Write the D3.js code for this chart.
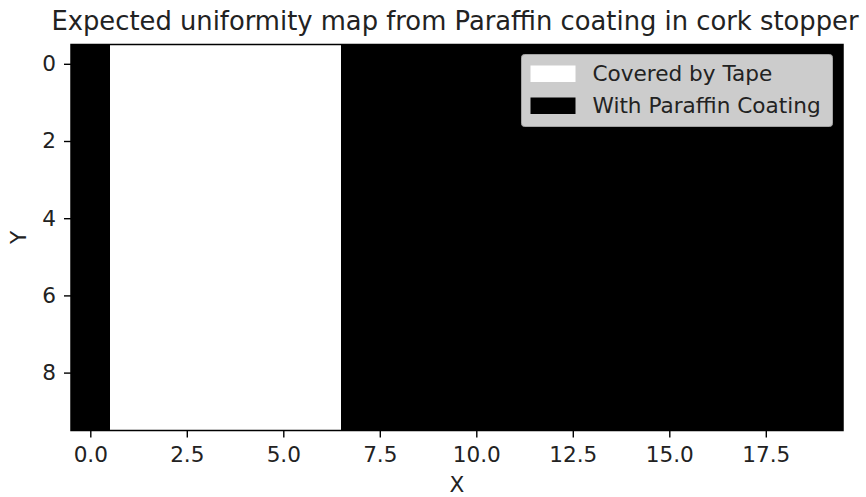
<!DOCTYPE html>
<html>
<head>
<meta charset="utf-8">
<script src="https://cdn.jsdelivr.net/npm/d3@7"></script>
<style>
  html, body { margin: 0; padding: 0; background: #ffffff; }
  svg { display: block; font-family: "DejaVu Sans", sans-serif; }
</style>
</head>
<body>
<svg id="chart" width="866" height="497"></svg>
<script>
// Grid of the stopper surface: 10 rows (Y) by 20 columns (X).
// 1 = covered by tape, 0 = paraffin coated.
const rowIndex = [0, 1, 2, 3, 4, 5, 6, 7, 8, 9];
const colIndex = [0, 1, 2, 3, 4, 5, 6, 7, 8, 9, 10, 11, 12, 13, 14, 15, 16, 17, 18, 19];
const rowPattern = [0, 1, 1, 1, 1, 1, 1, 0, 0, 0, 0, 0, 0, 0, 0, 0, 0, 0, 0, 0];

const xTicks = [0, 2.5, 5, 7.5, 10, 12.5, 15, 17.5];
const yTicks = [0, 2, 4, 6, 8];

const legendLabels = ["Covered by Tape", "With Paraffin Coating"];
const legendValues = [1, 0];

const title = "Expected uniformity map from Paraffin coating in cork stopper";
const xLabel = "X";
const yLabel = "Y";

const cells = [];
rowIndex.forEach(r => colIndex.forEach(c => cells.push({ r, c, v: rowPattern[c] })));

const margin = { left: 71, right: 866 - 843, top: 44.5, bottom: 497 - 430.5 };
const svg = d3.select("#chart");
const W = 866, H = 497;
const innerW = W - margin.left - margin.right;
const innerH = H - margin.top - margin.bottom;
const labelSize = "21.6px";

const x = d3.scaleLinear().domain([-0.5, 19.5]).range([margin.left, margin.left + innerW]);
const y = d3.scaleLinear().domain([-0.5, 9.5]).range([margin.top, margin.top + innerH]);
const color = d3.scaleOrdinal().domain([0, 1]).range(["#000000", "#ffffff"]);

// heatmap cells
svg.append("g")
  .selectAll("rect")
  .data(cells)
  .join("rect")
  .attr("x", d => x(d.c - 0.5))
  .attr("y", d => y(d.r - 0.5))
  .attr("width", d => x(d.c + 0.5) - x(d.c - 0.5) + 0.4)
  .attr("height", d => y(d.r + 0.5) - y(d.r - 0.5) + 0.4)
  .attr("fill", d => color(d.v))
  .attr("shape-rendering", "crispEdges");

// axes
const xAxis = d3.axisBottom(x).tickValues(xTicks).tickFormat(d3.format(".1f"))
  .tickSize(7).tickPadding(9).tickSizeOuter(0);
const yAxis = d3.axisLeft(y).tickValues(yTicks).tickFormat(d3.format("d"))
  .tickSize(7).tickPadding(8).tickSizeOuter(0);

const gx = svg.append("g").attr("transform", `translate(0,${margin.top + innerH})`).call(xAxis);
const gy = svg.append("g").attr("transform", `translate(${margin.left},0)`).call(yAxis);
[gx, gy].forEach(g => {
  g.select(".domain").remove();
  g.selectAll("line").attr("stroke", "#000").attr("stroke-width", 1.4);
  g.selectAll("text").attr("fill", "#222").style("font-size", labelSize)
    .style("font-family", "DejaVu Sans, sans-serif");
});

// frame
svg.append("rect")
  .attr("x", margin.left).attr("y", margin.top)
  .attr("width", innerW).attr("height", innerH)
  .attr("fill", "none").attr("stroke", "#000").attr("stroke-width", 1.5);

// title and axis labels
svg.append("text")
  .attr("x", margin.left + innerW / 2 - 2).attr("y", 30)
  .attr("text-anchor", "middle").attr("fill", "#222")
  .style("font-size", "25.8px")
  .text(title);

svg.append("text")
  .attr("x", margin.left + innerW / 2).attr("y", 492)
  .attr("text-anchor", "middle").attr("fill", "#222")
  .style("font-size", labelSize)
  .text(xLabel);

svg.append("text")
  .attr("transform", `translate(26,${margin.top + innerH / 2}) rotate(-90)`)
  .attr("text-anchor", "middle").attr("fill", "#222")
  .style("font-size", labelSize)
  .text(yLabel);

// legend
const lg = svg.append("g").attr("transform", "translate(521.5,54.5)");
lg.append("rect")
  .attr("width", 311).attr("height", 72).attr("rx", 3)
  .attr("fill", "#cccccc").attr("stroke", "#a3a3a3").attr("stroke-width", 1);
const items = lg.selectAll("g.item")
  .data(legendValues.map((v, i) => ({ v, label: legendLabels[i] })))
  .join("g").attr("class", "item")
  .attr("transform", (d, i) => `translate(9,${11 + i * 32})`);
items.append("rect")
  .attr("width", 45).attr("height", 16.5)
  .attr("fill", d => color(d.v));
items.append("text")
  .attr("x", 62).attr("y", 15.5)
  .attr("fill", "#222").style("font-size", labelSize)
  .text(d => d.label);
</script>
</body>
</html>
